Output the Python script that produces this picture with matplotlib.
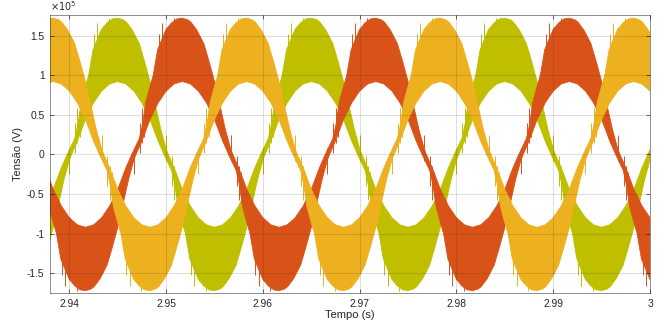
import numpy as np
import matplotlib
matplotlib.use('Agg')
import matplotlib.pyplot as plt
from matplotlib.ticker import FixedLocator

# ---------------- data ----------------
period = 0.02                      # 50 Hz
phase_peak_t = [2.9450, 2.95167, 2.95833]   # time of a positive peak of each phase (s)
phase_colors = ['#BFBF00', '#D95319', '#EDB120']

# envelope of one positive half-wave; angle measured from the rising zero crossing (deg)
# values in units of 1e5 V
outer_theta = [-4, 10, 16, 22, 30, 36, 44, 50, 60, 70, 80, 90, 100, 106, 117, 130, 140, 150, 160, 170, 180, 184]
outer_v     = [0.0, 0.2, 0.38, 0.66, 0.86, 1.0, 1.32, 1.42, 1.58, 1.66, 1.71, 1.72, 1.70, 1.67, 1.57, 1.40, 1.17, 0.92, 0.62, 0.32, 0.07, 0.0]
inner_theta = [4, 15, 30, 45, 60, 75, 90, 105, 120, 135, 150, 165, 176]
inner_v     = [0.0, 0.17, 0.44, 0.65, 0.80, 0.89, 0.92, 0.89, 0.80, 0.65, 0.44, 0.17, 0.0]

# switching spikes of a positive half-wave: angle from peak (deg), low, high (1e5 V)
spike_phi  = [-79, -75, -71, -44, -38, -16, -12, 90]
spike_low  = [0.02, 0.15, 0.22, 1.20, 1.35, 1.50, 1.55, -0.08]
spike_high = [0.40, 0.58, 0.52, 1.52, 1.66, 1.72, 1.69, 0.25]

x_ticks = [2.94, 2.95, 2.96, 2.97, 2.98, 2.99, 3.0]
x_tick_labels = ['2.94', '2.95', '2.96', '2.97', '2.98', '2.99', '3']
y_ticks = [-1.5e5, -1e5, -0.5e5, 0, 0.5e5, 1e5, 1.5e5]
y_tick_labels = ['-1.5', '-1', '-0.5', '0', '0.5', '1', '1.5']
x_lim = (2.938, 3.0)
y_lim = (-1.75e5, 1.76e5)
scale = 1e5

# ---------------- figure ----------------
plt.rcParams['font.family'] = ['Liberation Sans', 'DejaVu Sans']
fig = plt.figure(figsize=(6.67, 3.31), dpi=100)
ax = fig.add_axes([50/667, 38/331, 600/667, 278/331])

ot = np.array(outer_theta, float); ov = np.array(outer_v) * scale
it = np.array(inner_theta, float); iv = np.array(inner_v) * scale

for pk, col in zip(phase_peak_t, phase_colors):
    t_rise0 = pk - period / 4
    k0 = int(np.floor((x_lim[0] - t_rise0) / period)) - 1
    k1 = int(np.ceil((x_lim[1] - t_rise0) / period)) + 1
    max_t, max_v, min_t, min_v = [], [], [], []
    for k in range(k0, k1):
        t0 = t_rise0 + k * period
        # positive half: outer is max edge, inner is min edge
        max_t += list(t0 + ot / 360 * period); max_v += list(ov)
        min_t += list(t0 + it / 360 * period); min_v += list(iv)
        # negative half (mirror)
        tn = t0 + period / 2
        max_t += list(tn + it / 360 * period); max_v += list(-iv)
        min_t += list(tn + ot / 360 * period); min_v += list(-ov)
    max_t = np.array(max_t); max_v = np.array(max_v)
    min_t = np.array(min_t); min_v = np.array(min_v)
    o1 = np.argsort(max_t, kind='stable'); o2 = np.argsort(min_t, kind='stable')
    poly_t = np.concatenate([max_t[o1], min_t[o2][::-1]])
    poly_v = np.concatenate([max_v[o1], min_v[o2][::-1]])
    ax.fill(poly_t, poly_v, color=col, lw=0.6, ec=col, zorder=2)
    for k in range(k0, k1):
        tp = pk + k * period
        for phi, lo, hi in zip(spike_phi, spike_low, spike_high):
            ts = tp + phi / 360 * period
            ax.vlines(ts, lo * scale, hi * scale, color=col, lw=0.7, zorder=2)
            tn = ts + period / 2
            ax.vlines(tn, -hi * scale, -lo * scale, color=col, lw=0.7, zorder=2)

ax.set_xlim(*x_lim)
ax.set_ylim(*y_lim)
ax.xaxis.set_major_locator(FixedLocator(x_ticks))
ax.set_xticklabels(x_tick_labels)
ax.yaxis.set_major_locator(FixedLocator(y_ticks))
ax.set_yticklabels(y_tick_labels)

axc = '#262626'
ax.grid(True, color=axc, alpha=0.15, lw=0.8, zorder=3)
ax.set_axisbelow(False)
for s in ax.spines.values():
    s.set_color(axc); s.set_linewidth(0.6); s.set_alpha(0.6)
ax.tick_params(direction='in', length=3, width=0.5, colors=axc, labelsize=7.4,
               top=True, right=True, pad=4, labelcolor=axc)
ax.set_xlabel('Tempo (s)', fontsize=8, color=axc, labelpad=1)
ax.set_ylabel('Tensão (V)', fontsize=8, color=axc, labelpad=3)
ax.text(0.0, 1.008, r'$\times10^{5}$', transform=ax.transAxes, fontsize=7,
        color=axc, ha='left', va='bottom')

fig.savefig('out.png', dpi=100, facecolor='white')
